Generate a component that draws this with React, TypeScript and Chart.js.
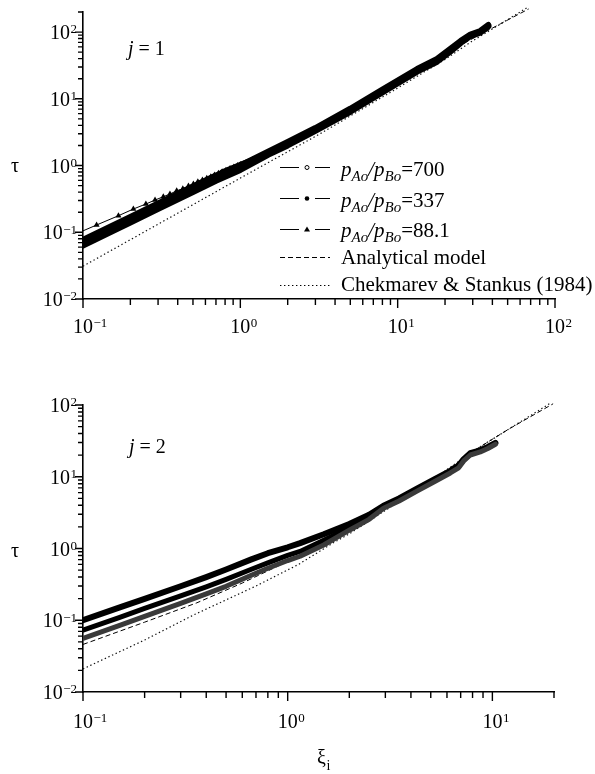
import React, { useEffect, useRef } from 'react';
import { Chart, registerables } from 'chart.js';

Chart.register(...registerables);

const FONT = '"Liberation Serif", "Times New Roman", Times, serif';

// ---------------- j = 1 panel data (xi, tau) ----------------
const j1Xi700 = [0.1, 0.15, 0.2, 0.29, 0.5, 0.7, 1.0, 1.5, 2.0, 3.0, 5.0, 8.0, 13.3, 17.8, 21.6, 25.2, 29, 33.5, 37.7];
const j1Tau700 = [0.063, 0.101, 0.14, 0.215, 0.4, 0.59, 0.86, 1.45, 2.0, 3.3, 6.4, 12.5, 25.5, 36, 51, 69, 87, 98, 122];

const j1Xi337 = [0.1, 0.15, 0.2, 0.3, 0.5, 0.7, 1.0, 1.5, 2.0, 3.0, 5.0, 8.0, 13.3, 17.8, 21.6, 25.2, 29, 33.5, 37.7];
const j1Tau337 = [0.077, 0.122, 0.17, 0.27, 0.485, 0.71, 1.0, 1.62, 2.25, 3.65, 7.1, 13.8, 28, 39.5, 56, 74, 92, 104, 128];

const j1Xi88 = [0.1, 0.122, 0.168, 0.209, 0.251, 0.287, 0.324, 0.357, 0.394, 0.431, 0.468, 0.503, 0.537, 0.574, 0.612, 0.649, 0.685, 0.726, 0.766, 0.81, 0.86, 0.91, 0.96, 1.0, 1.2, 1.5, 2.0, 3.0, 5.0, 8.0, 13.3, 17.8, 21.6, 25.2, 29, 33.5, 37.7];
const j1Tau88 = [0.105, 0.1285, 0.177, 0.223, 0.265, 0.304, 0.341, 0.374, 0.419, 0.449, 0.493, 0.528, 0.572, 0.607, 0.643, 0.679, 0.721, 0.764, 0.807, 0.85, 0.9, 0.95, 1.0, 1.04, 1.23, 1.55, 2.12, 3.5, 6.8, 13.2, 27, 38, 54, 72, 90, 101, 127];

const j1XiModel = [0.1, 0.3, 1, 3, 10, 26.2, 45, 68];
const j1TauModel = [0.062, 0.22, 0.87, 3.07, 17, 67.6, 133, 222];

const j1XiChek = [0.1, 0.31, 1.15, 3.22, 10, 20, 30, 45, 66];
const j1TauChek = [0.031, 0.138, 0.78, 3.0, 14.5, 39, 74, 132, 230];

// ---------------- j = 2 panel data (xi, tau) ----------------
const j2Xi = [0.1, 0.15, 0.2, 0.3, 0.4, 0.5, 0.66, 0.8, 1.0, 1.15, 1.5, 2.0, 2.5, 2.94, 3.5, 4.28, 5.2, 6.23, 6.84, 7.24, 7.8, 8.73, 9.5, 10.35];
const j2Tau88 = [0.1, 0.15, 0.199, 0.298, 0.4, 0.51, 0.7, 0.86, 1.04, 1.19, 1.58, 2.2, 2.95, 3.95, 5.0, 6.8, 9.2, 12.1, 14.3, 17.6, 21.3, 23.4, 26, 29.6];
const j2Tau337 = [0.073, 0.109, 0.146, 0.218, 0.292, 0.372, 0.51, 0.63, 0.8, 0.91, 1.3, 1.95, 2.7, 3.8, 4.8, 6.55, 8.85, 11.7, 13.8, 17.1, 20.7, 22.8, 25.4, 29];
const j2Tau700 = [0.056, 0.084, 0.113, 0.172, 0.233, 0.297, 0.42, 0.53, 0.68, 0.78, 1.12, 1.8, 2.55, 3.65, 4.6, 6.3, 8.5, 11.3, 13.3, 16.6, 20.1, 22.2, 24.8, 28.4];

const j2XiModel = [0.1, 0.2, 0.36, 0.6, 1, 1.5, 2, 3, 5, 8.4, 12, 19.8];
const j2TauModel = [0.046, 0.094, 0.175, 0.33, 0.66, 1.25, 1.95, 3.8, 8.5, 24.5, 46, 104];

const j2XiChek = [0.1, 0.2, 0.35, 0.7, 1.13, 1.67, 2.0, 3, 5, 8.4, 12, 19.2];
const j2TauChek = [0.021, 0.053, 0.12, 0.3, 0.6, 1.2, 1.6, 3.4, 8.8, 24.5, 46, 106];

// ---------------- tick labels ----------------
const j1XTicks = [0.1, 1, 10, 100];
const j1XTickExp = ['\u22121', '0', '1', '2'];
const j2XTicks = [0.1, 1, 10];
const j2XTickExp = ['\u22121', '0', '1'];
const yTicks = [0.01, 0.1, 1, 10, 100];
const yTickExp = ['\u22122', '\u22121', '0', '1', '2'];

const seriesLabels = ['pAo/pBo=700', 'pAo/pBo=337', 'pAo/pBo=88.1', 'Analytical model', 'Chekmarev & Stankus (1984)'];

type Seg = { t: string; it?: boolean; sub?: boolean };
const legendText: Seg[][] = [
  [{ t: 'p', it: true }, { t: 'Ao', it: true, sub: true }, { t: '/', it: true }, { t: 'p', it: true }, { t: 'Bo', it: true, sub: true }, { t: '=700' }],
  [{ t: 'p', it: true }, { t: 'Ao', it: true, sub: true }, { t: '/', it: true }, { t: 'p', it: true }, { t: 'Bo', it: true, sub: true }, { t: '=337' }],
  [{ t: 'p', it: true }, { t: 'Ao', it: true, sub: true }, { t: '/', it: true }, { t: 'p', it: true }, { t: 'Bo', it: true, sub: true }, { t: '=88.1' }],
  [{ t: 'Analytical model' }],
  [{ t: 'Chekmarev & Stankus (1984)' }],
];

const pts = (xs: number[], ys: number[]) => xs.map((x, i) => ({ x, y: ys[i] }));
const font = (size: number, italic?: boolean) => `${italic ? 'italic ' : ''}${size}px ${FONT}`;

function logTickValues(min: number, max: number): number[] {
  const out: number[] = [];
  const e0 = Math.floor(Math.log10(min) + 1e-9);
  const e1 = Math.ceil(Math.log10(max) - 1e-9);
  for (let e = e0; e <= e1; e++) {
    for (let m = 1; m <= 9; m++) {
      const v = m * Math.pow(10, e);
      if (v >= min * 0.999 && v <= max * 1.001) out.push(v);
    }
  }
  return out;
}
const isMajor = (v: number) => Math.abs(Math.log10(v) - Math.round(Math.log10(v))) < 1e-6;

interface PanelSpec {
  id: string;
  xMin: number; xMax: number; yMin: number; yMax: number;
  xTicks: number[]; xExps: string[];
  padding: { left: number; right: number; top: number; bottom: number };
  xLabelDy: number;
  tauY: number;
  jText: string; jX: number; jY: number;
  legend: boolean;
  xiTitle: null | { x: number; y: number };
}

function makeDecor(spec: PanelSpec) {
  return {
    id: 'decor' + spec.id,
    afterDraw(chart: any) {
      const ctx = chart.ctx as CanvasRenderingContext2D;
      const xs = chart.scales.x;
      const ys = chart.scales.y;
      const { left, bottom } = chart.chartArea;
      ctx.save();
      ctx.strokeStyle = '#000';
      ctx.fillStyle = '#000';
      ctx.lineWidth = 1.4;
      ctx.setLineDash([]);
      // tick marks
      ctx.beginPath();
      for (const v of logTickValues(spec.xMin, spec.xMax)) {
        const px = xs.getPixelForValue(v);
        const len = isMajor(v) ? 9 : 6;
        ctx.moveTo(px, bottom);
        ctx.lineTo(px, bottom + len);
      }
      for (const v of logTickValues(spec.yMin, spec.yMax)) {
        const py = ys.getPixelForValue(v);
        const len = isMajor(v) ? 8 : 5;
        ctx.moveTo(left - len, py);
        ctx.lineTo(left, py);
      }
      ctx.stroke();

      ctx.textAlign = 'left';
      ctx.textBaseline = 'alphabetic';
      // x tick labels
      spec.xTicks.forEach((v, i) => {
        const px = xs.getPixelForValue(v);
        ctx.font = font(20);
        const w1 = ctx.measureText('10').width;
        const x0 = px - w1 / 2;
        const by = bottom + spec.xLabelDy;
        ctx.fillText('10', x0, by);
        ctx.font = font(13);
        ctx.fillText(spec.xExps[i], x0 + w1 + 0.5, by - 6.5);
      });
      // y tick labels
      yTicks.forEach((v, i) => {
        const py = ys.getPixelForValue(v);
        ctx.font = font(13);
        const w2 = ctx.measureText(yTickExp[i]).width;
        ctx.font = font(20);
        const w1 = ctx.measureText('10').width;
        const x0 = left - 6 - w1 - w2 - 0.5;
        ctx.fillText('10', x0, py + 7);
        ctx.font = font(13);
        ctx.fillText(yTickExp[i], x0 + w1 + 0.5, py + 1.3);
      });
      // axis title tau
      ctx.font = font(20);
      ctx.textAlign = 'center';
      ctx.fillText('\u03C4', 15, spec.tauY + 5);
      ctx.textAlign = 'left';
      // j label
      ctx.font = font(20, true);
      ctx.fillText('j', spec.jX, spec.jY);
      const wj = ctx.measureText('j').width;
      ctx.font = font(20);
      ctx.fillText(' = ' + spec.jText, spec.jX + wj, spec.jY);
      // xi title
      if (spec.xiTitle) {
        ctx.font = font(20);
        ctx.fillText('\u03BE', spec.xiTitle.x, spec.xiTitle.y);
        const wx = ctx.measureText('\u03BE').width;
        ctx.font = font(14);
        ctx.fillText('i', spec.xiTitle.x + wx + 0.5, spec.xiTitle.y + 6);
      }
      // legend
      if (spec.legend) {
        const sampleY = [167, 198, 229, 257, 285];
        const textY = [176, 207, 237, 264, 291];
        chart.data.datasets.forEach((ds: any, i: number) => {
          const y = Math.round(sampleY[i]) + 0.5;
          ctx.strokeStyle = '#000';
          ctx.lineWidth = 1;
          if (ds.borderDash && ds.borderDash.length) {
            ctx.lineWidth = ds.borderWidth;
            ctx.setLineDash(ds.borderDash);
            ctx.beginPath();
            ctx.moveTo(280, y);
            ctx.lineTo(330, y);
            ctx.stroke();
            ctx.setLineDash([]);
          } else {
            ctx.setLineDash([]);
            ctx.beginPath();
            ctx.moveTo(280, y);
            ctx.lineTo(299, y);
            ctx.moveTo(315, y);
            ctx.lineTo(330, y);
            ctx.stroke();
            const mx = 307;
            ctx.beginPath();
            if (ds.legendMarker === 'triangle') {
              ctx.moveTo(mx, y - 3);
              ctx.lineTo(mx + 3, y + 2);
              ctx.lineTo(mx - 3, y + 2);
              ctx.closePath();
              ctx.fillStyle = '#000';
              ctx.fill();
            } else if (ds.legendMarker === 'open') {
              ctx.arc(mx, y, 2, 0, Math.PI * 2);
              ctx.fillStyle = '#fff';
              ctx.fill();
              ctx.stroke();
            } else {
              ctx.arc(mx, y, 2.3, 0, Math.PI * 2);
              ctx.fillStyle = '#000';
              ctx.fill();
            }
          }
          ctx.fillStyle = '#000';
          let cx = 341;
          for (const s of legendText[i]) {
            ctx.font = font(s.sub ? 15 : 21, s.it);
            ctx.fillText(s.t, cx, textY[i] + (s.sub ? 5 : 0));
            cx += ctx.measureText(s.t).width;
          }
        });
      }
      ctx.restore();
    },
  };
}

function makeConfig(spec: PanelSpec, datasets: any[]): any {
  return {
    type: 'scatter',
    data: { datasets },
    options: {
      responsive: false,
      animation: false,
      devicePixelRatio: 1,
      events: [],
      layout: { padding: spec.padding },
      plugins: { legend: { display: false }, tooltip: { enabled: false } },
      scales: {
        x: {
          type: 'logarithmic',
          min: spec.xMin,
          max: spec.xMax,
          grid: { display: false },
          ticks: { display: false },
          border: { display: true, color: '#000', width: 1.6 },
          afterFit: (s: any) => { s.height = 20; },
        },
        y: {
          type: 'logarithmic',
          min: spec.yMin,
          max: spec.yMax,
          grid: { display: false },
          ticks: { display: false },
          border: { display: true, color: '#000', width: 1.6 },
          afterFit: (s: any) => { s.width = 83; },
        },
      },
    },
    plugins: [makeDecor(spec)],
  };
}

const panelJ1: PanelSpec = {
  id: 'j1', xMin: 0.1, xMax: 100, yMin: 0.01, yMax: 200,
  xTicks: j1XTicks, xExps: j1XTickExp,
  padding: { left: 0, right: 40, top: 12, bottom: 26 },
  xLabelDy: 34, tauY: 167, jText: '1', jX: 128, jY: 55, legend: true, xiTitle: null,
};
const panelJ2: PanelSpec = {
  id: 'j2', xMin: 0.1, xMax: 20, yMin: 0.01, yMax: 100,
  xTicks: j2XTicks, xExps: j2XTickExp,
  padding: { left: 0, right: 41, top: 60, bottom: 62 },
  xLabelDy: 36, tauY: 207, jText: '2', jX: 129, jY: 108, legend: false, xiTitle: { x: 317, y: 419 },
};

const baseLine = { showLine: true, borderJoinStyle: 'round', borderCapStyle: 'round', pointBorderWidth: 0 };

function j1Datasets() {
  return [
    { ...baseLine, label: seriesLabels[0], legendMarker: 'open', data: pts(j1Xi700, j1Tau700), borderColor: '#000', borderWidth: 6, pointRadius: 0 },
    { ...baseLine, label: seriesLabels[1], legendMarker: 'filled', data: pts(j1Xi337, j1Tau337), borderColor: '#000', borderWidth: 6, pointRadius: 0 },
    {
      ...baseLine, label: seriesLabels[2], legendMarker: 'triangle', data: pts(j1Xi88, j1Tau88),
      borderColor: '#000', borderWidth: 1,
      segment: { borderWidth: (c: any) => (c.p0.parsed.x >= 0.76 ? 5 : 1) },
      pointStyle: 'triangle', pointBackgroundColor: '#000', pointBorderColor: '#000',
      pointRadius: (c: any) => (c.raw && c.raw.x > 0.11 ? 3.5 : 0),
    },
    { label: seriesLabels[3], showLine: true, data: pts(j1XiModel, j1TauModel), borderColor: '#000', borderWidth: 1, borderDash: [5, 3], pointRadius: 0, clip: false },
    { label: seriesLabels[4], showLine: true, data: pts(j1XiChek, j1TauChek), borderColor: '#111', borderWidth: 1.2, borderDash: [1.4, 2.6], pointRadius: 0, clip: false },
  ];
}

function j2Datasets() {
  return [
    { ...baseLine, label: seriesLabels[0], data: pts(j2Xi, j2Tau700), borderColor: '#3a3a3a', borderWidth: 5, pointRadius: 0 },
    { ...baseLine, label: seriesLabels[1], data: pts(j2Xi, j2Tau337), borderColor: '#000', borderWidth: 5, pointRadius: 0 },
    { ...baseLine, label: seriesLabels[2], data: pts(j2Xi, j2Tau88), borderColor: '#000', borderWidth: 6, pointRadius: 0 },
    { label: seriesLabels[3], showLine: true, data: pts(j2XiModel, j2TauModel), borderColor: '#000', borderWidth: 1, borderDash: [5, 3], pointRadius: 0, clip: false },
    { label: seriesLabels[4], showLine: true, data: pts(j2XiChek, j2TauChek), borderColor: '#111', borderWidth: 1.2, borderDash: [1.4, 2.6], pointRadius: 0, clip: false },
  ];
}

export default function App() {
  const topRef = useRef<HTMLCanvasElement | null>(null);
  const botRef = useRef<HTMLCanvasElement | null>(null);

  useEffect(() => {
    const charts: Chart[] = [];
    if (topRef.current) charts.push(new Chart(topRef.current, makeConfig(panelJ1, j1Datasets())));
    if (botRef.current) charts.push(new Chart(botRef.current, makeConfig(panelJ2, j2Datasets())));
    return () => charts.forEach((c) => c.destroy());
  }, []);

  return (
    <div style={{ position: 'absolute', left: 0, top: 0, width: 595, height: 774, background: '#fff' }}>
      <canvas ref={topRef} width={595} height={345} style={{ position: 'absolute', left: 0, top: 0, width: 595, height: 345 }} />
      <canvas ref={botRef} width={595} height={429} style={{ position: 'absolute', left: 0, top: 345, width: 595, height: 429 }} />
    </div>
  );
}
